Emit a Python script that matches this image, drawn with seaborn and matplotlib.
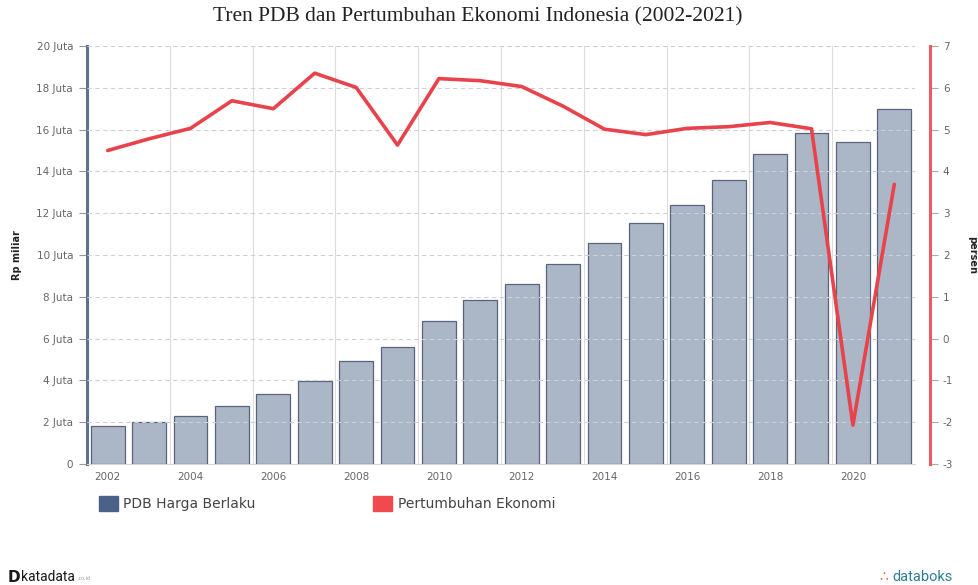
import numpy as np
import pandas as pd
import matplotlib
matplotlib.use("Agg")
import matplotlib.pyplot as plt
import seaborn as sns
from matplotlib.patches import Rectangle

years = list(range(2002, 2022))
pdb_juta = [1.82, 2.01, 2.30, 2.77, 3.34, 3.95, 4.95, 5.61, 6.86, 7.83,
            8.62, 9.55, 10.57, 11.53, 12.40, 13.59, 14.84, 15.83, 15.43, 16.97]
growth = [4.50, 4.78, 5.03, 5.69, 5.50, 6.35, 6.01, 4.63, 6.22, 6.17,
          6.03, 5.56, 5.01, 4.88, 5.03, 5.07, 5.17, 5.02, -2.07, 3.69]
left_ticks = [0, 2, 4, 6, 8, 10, 12, 14, 16, 18, 20]
left_labels = ["0"] + [f"{v} Juta" for v in left_ticks[1:]]
right_ticks = list(range(-3, 8))

title = "Tren PDB dan Pertumbuhan Ekonomi Indonesia (2002-2021)"
bar_name = "PDB Harga Berlaku"
line_name = "Pertumbuhan Ekonomi"

df = pd.DataFrame({"tahun": [str(y) for y in years], "pdb": pdb_juta,
                   "idx": np.arange(len(years)), "growth": growth})

sns.set_style("white")
plt.rcParams["font.family"] = ["DejaVu Sans"]
plt.rcParams["axes.unicode_minus"] = False

W, H = 979, 585
fig = plt.figure(figsize=(W / 100, H / 100), dpi=100)
ax = fig.add_axes([87 / W, 1 - 464 / H, (915 - 87) / W, (464 - 46) / H])

bar_fill = "#abb6c6"
bar_edge = "#56657c"
red = "#e8434b"
tick_c = "#666666"

sns.barplot(data=df, x="tahun", y="pdb", order=df["tahun"], color=bar_fill,
            saturation=1, width=0.82, edgecolor=bar_edge, linewidth=0.9, ax=ax, zorder=3)

ax.set_xlim(-0.5, len(years) - 0.5)
ax.set_ylim(0, 20)
ax.set_yticks(left_ticks)
ax.set_yticklabels(left_labels)
ax.set_xticks(np.arange(0, len(years), 2))
ax.set_xticklabels([str(y) for y in years[::2]])
ax.set_xlabel("")
ax.set_ylabel("")

# dashed horizontal grid and vertical boundary lines every two categories
for v in left_ticks[1:]:
    ax.axhline(v, color="#cdd1d6", lw=0.8, ls=(0, (4, 3)), zorder=4)
for b in np.arange(1.5, len(years), 2):
    ax.axvline(b, color="#dcdcdc", lw=0.8, zorder=1)

for s in ["top", "right"]:
    ax.spines[s].set_visible(False)
ax.spines["left"].set_color("#5d7191")
ax.spines["left"].set_linewidth(2.2)
ax.spines["bottom"].set_color("#d5d5d5")
ax.spines["bottom"].set_linewidth(0.8)
ax.tick_params(axis="y", length=6, width=0.8, color="#999999", labelsize=7.5,
               labelcolor=tick_c, pad=4, left=True)
ax.tick_params(axis="x", length=0, labelsize=7.5, labelcolor=tick_c, pad=6)

ax2 = ax.twinx()
sns.lineplot(data=df, x="idx", y="growth", color=red, lw=2.6, ax=ax2, zorder=5)
ax2.set_ylim(-3, 7)
ax2.set_yticks(right_ticks)
ax2.set_xlim(-0.5, len(years) - 0.5)
ax2.set_ylabel("")
for s in ["top", "left", "bottom"]:
    ax2.spines[s].set_visible(False)
ax2.spines["right"].set_position(("outward", 11))
ax2.spines["right"].set_color("#ec5a62")
ax2.spines["right"].set_linewidth(2.2)
ax2.tick_params(axis="y", length=6, width=0.8, color="#aaaaaa", labelsize=7.5,
                labelcolor=tick_c, pad=3, right=True)
ax2.set_xlabel("")

# axis titles
fig.text(17 / W, 1 - 255 / H, "Rp miliar", ha="center", va="center", rotation=90,
         fontsize=7, fontweight="bold", color="#222222",
         family=["Liberation Sans Narrow", "DejaVu Sans"])
fig.text(972 / W, 1 - 255 / H, "persen", ha="center", va="center", rotation=270,
         fontsize=7, fontweight="bold", color="#222222",
         family=["Liberation Sans Narrow", "DejaVu Sans"])

fig.text(478 / W, 1 - 17 / H, title, ha="center", va="center",
         fontsize=15.5, family=["Liberation Serif", "DejaVu Serif"], color="#222222")

# legend row
fig.patches.append(Rectangle((99 / W, 1 - 511 / H), 19 / W, 15 / H,
                             transform=fig.transFigure, color="#4a6287"))
fig.text(123 / W, 1 - 504 / H, bar_name, ha="left", va="center", fontsize=10, color="#444444")
fig.patches.append(Rectangle((373 / W, 1 - 511 / H), 19 / W, 15 / H,
                             transform=fig.transFigure, color="#f04a4f"))
fig.text(398 / W, 1 - 504 / H, line_name, ha="left", va="center", fontsize=10, color="#444444")

# footer marks
fig.text(8 / W, 1 - 577 / H, "D", ha="left", va="center", fontsize=11,
         fontweight="bold", color="#1a1a1a")
fig.text(21 / W, 1 - 577 / H, "katadata", ha="left", va="center", fontsize=10,
         color="#1a1a1a", family=["Roboto", "DejaVu Sans"])
fig.text(77 / W, 1 - 579 / H, ".co.id", ha="left", va="center", fontsize=3.5, color="#999999")
fig.text(879 / W, 1 - 577 / H, "\u2234", ha="left", va="center", fontsize=10, color="#e0703a")
fig.text(892 / W, 1 - 577 / H, "databoks", ha="left", va="center", fontsize=10.5,
         color="#2f7f95", family=["Roboto", "DejaVu Sans"])

fig.savefig("out.png", dpi=100, facecolor="white")
